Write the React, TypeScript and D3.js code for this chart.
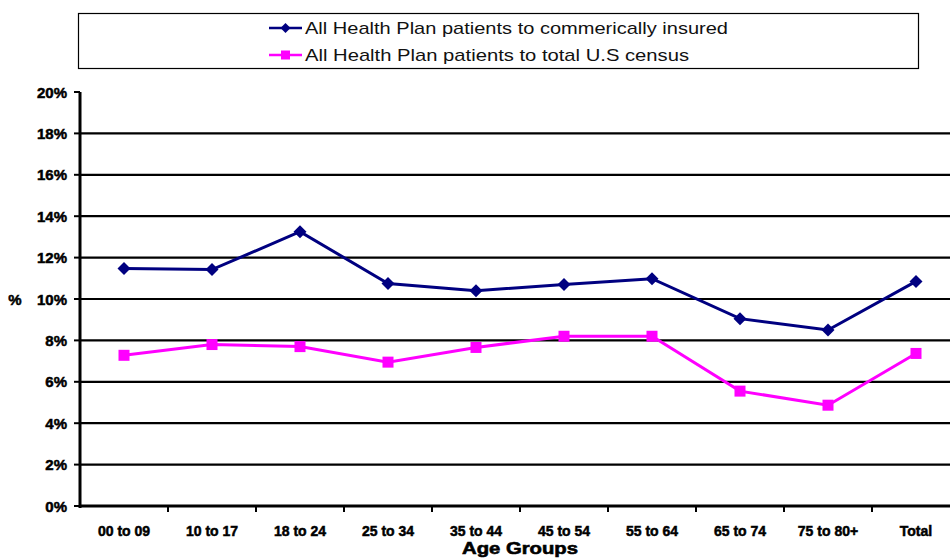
import React from "react";
import * as d3 from "d3";

const categories = ["00 to 09", "10 to 17", "18 to 24", "25 to 34", "35 to 44", "45 to 54", "55 to 64", "65 to 74", "75 to 80+", "Total"];
const commercial = [11.47, 11.42, 13.25, 10.75, 10.4, 10.7, 10.98, 9.05, 8.5, 10.85];
const census = [7.28, 7.8, 7.7, 6.95, 7.66, 8.2, 8.2, 5.55, 4.87, 7.37];
const yTicks = [0, 2, 4, 6, 8, 10, 12, 14, 16, 18, 20];
const seriesNames = ["All Health Plan patients to commerically insured", "All Health Plan patients to total U.S  census"];

const W = 950, H = 560;
const left = 80, right = 960, top = 92, bottom = 506;

export default function App() {
  const x = d3.scaleBand<string>().domain(categories).range([left, right]);
  const y = d3.scaleLinear().domain([0, 20]).range([bottom, top]);
  const cx = (c: string) => (x(c) as number) + x.bandwidth() / 2;
  const line = d3.line<number>().x((_, i) => cx(categories[i])).y((d) => y(d));
  const font = "'Liberation Sans', Arial, sans-serif";
  const diamond = (px: number, py: number, r: number) => `M${px},${py - r}L${px + r},${py}L${px},${py + r}L${px - r},${py}Z`;

  return (
    <div style={{ position: "absolute", left: 0, top: 0 }}>
      <svg width={W} height={H} style={{ display: "block", background: "#fff" }}>
        {/* legend */}
        <rect x={78.5} y={13.5} width={840} height={55} fill="#fff" stroke="#000" strokeWidth={1.2} />
        <line x1={269} x2={302} y1={28} y2={28} stroke="#000080" strokeWidth={2.5} />
        <path d={diamond(285.5, 28, 5)} fill="#000080" />
        <text x={305} y={34} fontFamily={font} fontSize={17} fill="#111" textLength={423} lengthAdjust="spacingAndGlyphs">{seriesNames[0]}</text>
        <line x1={269} x2={302} y1={55} y2={55} stroke="#ff00ff" strokeWidth={2.5} />
        <rect x={281} y={50.5} width={9} height={9} fill="#ff00ff" />
        <text x={305} y={61} fontFamily={font} fontSize={17} fill="#111" textLength={384} lengthAdjust="spacingAndGlyphs">{seriesNames[1]}</text>

        {/* gridlines */}
        {yTicks.filter((t) => t > 0 && t < 20).map((t) => (
          <line key={t} x1={left} x2={W} y1={y(t)} y2={y(t)} stroke="#000" strokeWidth={2.2} />
        ))}
        {/* y axis */}
        <line x1={left} x2={left} y1={top} y2={bottom + 2} stroke="#000" strokeWidth={3} />
        {yTicks.map((t) => (
          <g key={t}>
            <line x1={left - 6} x2={left} y1={y(t)} y2={y(t)} stroke="#000" strokeWidth={2} />
            <text x={67} y={y(t) + 5.5} textAnchor="end" fontFamily={font} fontWeight="bold" fontSize={15} fill="#000" stroke="#000" strokeWidth={0.5}>{t}%</text>
          </g>
        ))}
        <text x={15} y={305} textAnchor="middle" fontFamily={font} fontWeight="bold" fontSize={15} stroke="#000" strokeWidth={0.5}>%</text>

        {/* x axis */}
        <line x1={left} x2={W} y1={bottom} y2={bottom} stroke="#000" strokeWidth={3} />
        {categories.map((c) => (
          <line key={c} x1={(x(c) as number) + x.bandwidth()} x2={(x(c) as number) + x.bandwidth()} y1={bottom} y2={bottom + 6} stroke="#000" strokeWidth={2} />
        ))}
        {categories.map((c) => (
          <text key={c} x={cx(c)} y={536} textAnchor="middle" fontFamily={font} fontWeight="bold" fontSize={14} fill="#000" stroke="#000" strokeWidth={0.5}>{c}</text>
        ))}
        <text x={520} y={554} textAnchor="middle" fontFamily={font} fontWeight="bold" fontSize={17} fill="#000" stroke="#000" strokeWidth={0.6} textLength={116} lengthAdjust="spacingAndGlyphs">Age Groups</text>

        {/* series */}
        <path d={line(commercial) || ""} fill="none" stroke="#000080" strokeWidth={3} />
        {commercial.map((v, i) => (
          <path key={i} d={diamond(cx(categories[i]), y(v), 6.5)} fill="#000080" />
        ))}
        <path d={line(census) || ""} fill="none" stroke="#ff00ff" strokeWidth={3} />
        {census.map((v, i) => (
          <rect key={i} x={cx(categories[i]) - 5.5} y={y(v) - 5.5} width={11} height={11} fill="#ff00ff" />
        ))}
      </svg>
    </div>
  );
}
